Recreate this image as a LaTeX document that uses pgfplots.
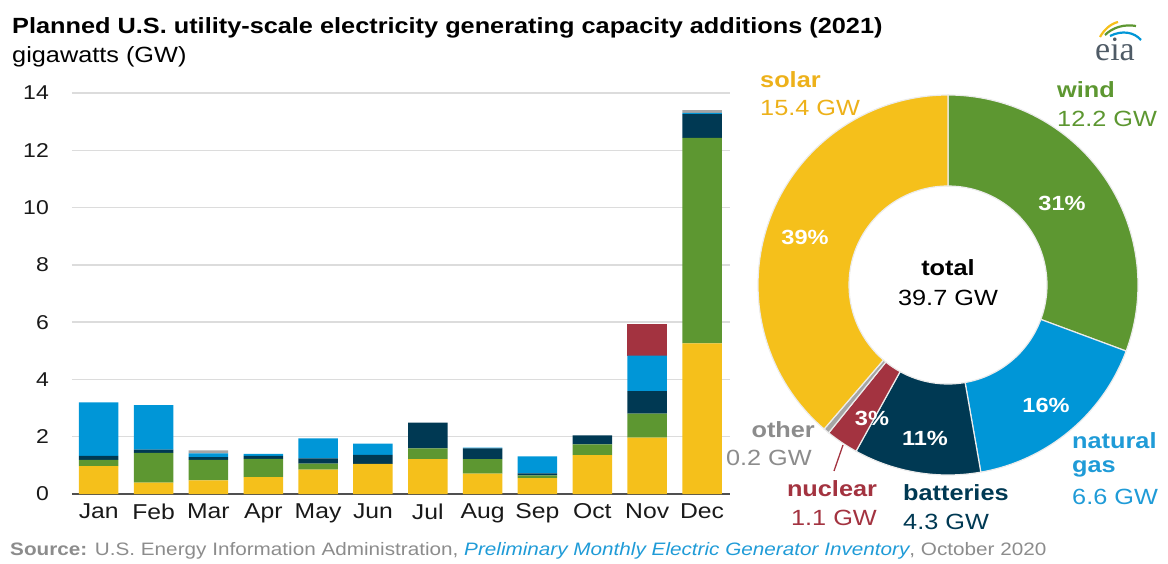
\documentclass[border=0pt]{standalone}
\usepackage{fontspec}
\setmainfont{Liberation Sans}[FakeStretch=1.15]
\newfontfamily\seriffont{Liberation Serif}
\usepackage{pgfplots}
\usepackage{pgfplotstable}
\pgfplotsset{compat=1.18}

\definecolor{cSolar}{HTML}{F5C01B}
\definecolor{cWind}{HTML}{5D9731}
\definecolor{cBatt}{HTML}{003953}
\definecolor{cGas}{HTML}{0096D7}
\definecolor{cNuc}{HTML}{A33340}
\definecolor{cOther}{HTML}{A5A5A5}
\definecolor{cSolarTxt}{HTML}{EDB11A}
\definecolor{cGasTxt}{HTML}{1F9BD7}
\definecolor{cGrayTxt}{HTML}{8C8C8C}
\definecolor{cGrid}{HTML}{DCDCDC}
\definecolor{cAxis}{HTML}{505050}
\definecolor{cLogo}{HTML}{4F5B66}

% monthly additions, GW (month index 0 = Jan)
\pgfplotstableread{
m  solar wind batt gas  nuc  other
0  0.97  0.22 0.14 1.87 0    0
1  0.40  1.04 0.11 1.55 0    0
2  0.48  0.71 0.10 0.13 0    0.10
3  0.59  0.64 0.10 0.07 0    0
4  0.85  0.21 0.18 0.70 0    0
5  1.05  0    0.32 0.39 0    0
6  1.22  0.37 0.90 0    0    0
7  0.71  0.51 0.37 0.03 0    0
8  0.55  0.10 0.07 0.59 0    0
9  1.36  0.37 0.32 0    0    0
10 1.97  0.84 0.78 1.24 1.10 0
11 5.26  7.17 0.83 0.05 0    0.09
}\monthly

% annual totals, GW
\def\vWind{12.2}
\def\vGas{6.6}
\def\vBatt{4.3}
\def\vNuc{1.1}
\def\vOther{0.2}
\def\vSolar{15.4}

\newcommand\donutwedge[3]{%
  \fill[#3, draw=white!85!gray, line width=1.2pt]
    (axis cs:{190*cos(#1)},{190*sin(#1)}) arc[start angle=#1, end angle=#2, radius=190pt]
    -- (axis cs:{99*cos(#2)},{99*sin(#2)}) arc[start angle=#2, end angle=#1, radius=99pt] -- cycle;}

\newcommand\lbl{\fontsize{22}{26}\selectfont}
\newcommand\pct{\fontsize{20.5}{24}\selectfont\bfseries}

\begin{document}
\begin{tikzpicture}[x=1pt,y=1pt]
\useasboundingbox (0,0) rectangle (1168,563);

\pgfmathsetmacro\tot{\vWind+\vGas+\vBatt+\vNuc+\vOther+\vSolar}
\pgfmathsetmacro\aA{90}
\pgfmathsetmacro\aB{\aA-360*\vWind/\tot}
\pgfmathsetmacro\aC{\aB-360*\vGas/\tot}
\pgfmathsetmacro\aD{\aC-360*\vBatt/\tot}
\pgfmathsetmacro\aE{\aD-360*\vNuc/\tot}
\pgfmathsetmacro\aF{\aE-360*\vOther/\tot}
\pgfmathsetmacro\aG{-270}

% title
\node[anchor=west, font=\fontsize{22}{26}\selectfont\bfseries, inner sep=0pt] at (12,535) {Planned U.S. utility-scale electricity generating capacity additions (2021)};
\node[anchor=west, font=\lbl, inner sep=0pt] at (12,506) {gigawatts (GW)};

% logo
\node[font=\seriffont\fontsize{34}{34}\selectfont, text=cLogo] at (1115,514) {eia};
\draw[cSolar, line width=2.2pt] (1100,526) .. controls (1104,533) and (1110,539) .. (1118,541);
\draw[cWind, line width=2.2pt] (1105,528) .. controls (1113,536) and (1125,539) .. (1136,537);
\draw[cGas, line width=2.2pt] (1110,527) .. controls (1122,533) and (1134,531) .. (1141,523);

\begin{axis}[
  at={(72pt,69pt)}, anchor=south west,
  scale only axis, width=658pt, height=401pt,
  xmin=-0.487, xmax=11.51, ymin=0, ymax=14,
  ybar stacked, bar width=39.5pt,
  xtick={0,...,11},
  xticklabels={Jan,Feb,Mar,Apr,May,Jun,Jul,Aug,Sep,Oct,Nov,Dec},
  ytick={0,2,...,14},
  ymajorgrids, grid style={draw=cGrid, line width=1.3pt},
  axis line style={draw=none}, major tick length=0pt,
  yticklabel style={font=\fontsize{20}{24}\selectfont, text=black!90, inner sep=1pt, xshift=-22pt},
  xticklabel style={font=\fontsize{21.5}{25}\selectfont, text=black!90, yshift=-6pt},
  /pgf/number format/assume math mode=true,
  clip=false,
]
\addplot[fill=cSolar, draw=none] table[x=m, y=solar]{\monthly};
\addplot[fill=cWind, draw=none] table[x=m, y=wind]{\monthly};
\addplot[fill=cBatt, draw=none] table[x=m, y=batt]{\monthly};
\addplot[fill=cGas, draw=none] table[x=m, y=gas]{\monthly};
\addplot[fill=cNuc, draw=none] table[x=m, y=nuc]{\monthly};
\addplot[fill=cOther, draw=none] table[x=m, y=other]{\monthly};
\draw[cAxis, line width=2pt] (axis cs:-0.487,0) -- (axis cs:11.51,0);
\end{axis}

% donut
\begin{axis}[
  at={(748pt,78pt)}, anchor=south west,
  scale only axis, width=400pt, height=400pt,
  xmin=-200, xmax=200, ymin=-200, ymax=200,
  hide axis, clip=false,
]
\donutwedge{\aA}{\aB}{cWind}
\donutwedge{\aB}{\aC}{cGas}
\donutwedge{\aC}{\aD}{cBatt}
\donutwedge{\aD}{\aE}{cNuc}
\donutwedge{\aE}{\aF}{cOther}
\donutwedge{\aF}{\aG}{cSolar}
\node[text=white, font=\pct] at (axis cs:114,82) {31\%};
\node[text=white, font=\pct] at (axis cs:98,-120) {16\%};
\node[text=white, font=\pct] at (axis cs:-23,-153) {11\%};
\node[text=white, font=\pct] at (axis cs:-76,-133) {3\%};
\node[text=white, font=\pct] at (axis cs:-143,48) {39\%};
\node[font=\lbl\bfseries] at (axis cs:0,17) {total};
\node[font=\lbl] at (axis cs:0,-13) {39.7 GW};
\end{axis}

% outer labels
\begin{scope}[every node/.style={font=\lbl, inner sep=0pt}]
\node[anchor=west, text=cSolarTxt, font=\lbl\bfseries] at (760,483) {solar};
\node[anchor=west, text=cSolarTxt] at (760,455) {15.4 GW};
\node[anchor=west, text=cWind, font=\lbl\bfseries] at (1057,473) {wind};
\node[anchor=west, text=cWind] at (1057,444) {12.2 GW};
\node[anchor=west, text=cGasTxt, font=\lbl\bfseries] at (1072,122) {natural};
\node[anchor=west, text=cGasTxt, font=\lbl\bfseries] at (1072,94) {gas};
\node[anchor=west, text=cGasTxt] at (1072,66) {6.6 GW};
\node[anchor=west, text=cBatt, font=\lbl\bfseries] at (903,70) {batteries};
\node[anchor=west, text=cBatt] at (903,41) {4.3 GW};
\node[text=cNuc, font=\lbl\bfseries] at (832,74) {nuclear};
\node[text=cNuc] at (834,45) {1.1 GW};
\node[anchor=east, text=cGrayTxt, font=\lbl\bfseries] at (815,133) {other};
\node[anchor=east, text=cGrayTxt] at (812,105) {0.2 GW};
\end{scope}
\draw[cNuc, line width=1.3pt] (843,118) -- (834,92);

% source
\node[anchor=west, font=\fontsize{18}{21}\selectfont, text=cGrayTxt, inner sep=0pt] at (10,12)
  {\textbf{Source:} U.S. Energy Information Administration, \textcolor{cGasTxt}{\itshape Preliminary Monthly Electric Generator Inventory}, October 2020};
\end{tikzpicture}
\end{document}
